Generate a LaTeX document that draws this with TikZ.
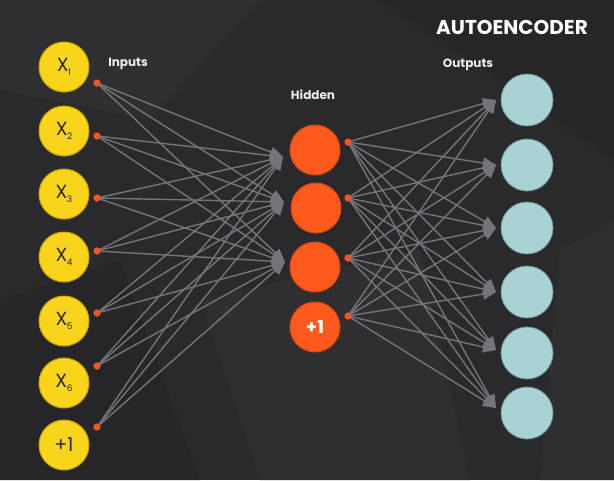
\documentclass[tikz,border=0pt]{standalone}
\usepackage{fontspec}
\setmainfont{Poppins}
\usetikzlibrary{arrows.meta}
\definecolor{bg}{HTML}{2A2A2C}
\definecolor{bgb}{HTML}{2F2F31}
\definecolor{bgc}{HTML}{262628}
\definecolor{yel}{HTML}{F8D41A}
\definecolor{yeld}{HTML}{C9A200}
\definecolor{org}{HTML}{FF5A1E}
\definecolor{orgd}{HTML}{D84410}
\definecolor{teal}{HTML}{A9D2D5}
\definecolor{teald}{HTML}{6E9598}
\definecolor{edge}{HTML}{72757A}
\definecolor{lbl}{HTML}{EDEDED}
\definecolor{dot}{HTML}{F2542A}
\tikzset{
  inp/.style={circle, fill=yel, draw=yeld, line width=1pt, minimum size=50pt, inner sep=0pt, font=\fontsize{19}{19}\selectfont, text=black!85},
  hid/.style={circle, fill=org, draw=orgd, line width=1pt, minimum size=50pt, inner sep=0pt, font=\fontsize{18}{18}\selectfont\bfseries, text=white},
  outn/.style={circle, fill=teal, draw=teald, line width=0.8pt, minimum size=52pt, inner sep=0pt},
  sdot/.style={circle, fill=dot, minimum size=7pt, inner sep=0pt},
  conn/.style={draw=edge, line width=1.4pt, -{Triangle[length=13pt,width=11pt]}},
  lab/.style={text=lbl, font=\fontsize{12}{12}\selectfont\bfseries},
}
\newcommand{\xs}[1]{X\kern-0.5pt\raisebox{-4.5pt}{\fontsize{9}{9}\selectfont #1}}
\begin{document}
\begin{tikzpicture}[x=1pt,y=-1pt]
\fill[bg] (0,0) rectangle (614,480);
\useasboundingbox (0,0) rectangle (614,480);
% subtle background facets
\fill[bgb] (0,0) -- (260,0) -- (150,120) -- (0,90) -- cycle;
\fill[bgc] (380,0) -- (614,0) -- (614,160) -- (470,60) -- cycle;
\fill[bgb] (200,300) -- (420,250) -- (470,480) -- (260,480) -- cycle;
\fill[bgc] (0,300) -- (120,260) -- (200,480) -- (0,480) -- cycle;
\fill[bgb] (560,250) -- (614,220) -- (614,480) -- (540,480) -- cycle;

% input nodes
\node[inp] (x1) at (64,67) {\xs{1}};
\node[inp] (x2) at (64,131) {\xs{2}};
\node[inp] (x3) at (64,194) {\xs{3}};
\node[inp] (x4) at (64,257) {\xs{4}};
\node[inp] (x5) at (64,321) {\xs{5}};
\node[inp] (x6) at (64,383) {\xs{6}};
\node[inp] (xb) at (64,445) {+1};

% hidden nodes
\node[hid] (h1) at (315,150) {};
\node[hid] (h2) at (316,208) {};
\node[hid] (h3) at (315,267) {};
\node[hid] (hb) at (315,327) {+1};

% output nodes
\node[outn] (o1) at (527,100) {};
\node[outn] (o2) at (527,165) {};
\node[outn] (o3) at (527,228) {};
\node[outn] (o4) at (527,292) {};
\node[outn] (o5) at (527,353) {};
\node[outn] (o6) at (527,413) {};

% arrow tip coordinates
\coordinate (th1) at (283,157);
\coordinate (th2) at (284,202);
\coordinate (th3) at (285,262);
\coordinate (to1) at (496,100);
\coordinate (to2) at (496,165);
\coordinate (to3) at (496,228);
\coordinate (to4) at (496,292);
\coordinate (to5) at (496,350);
\coordinate (to6) at (496,408);

% input dots
\node[sdot] (d1) at (97,83) {};
\node[sdot] (d2) at (97,136) {};
\node[sdot] (d3) at (97,198) {};
\node[sdot] (d4) at (97,251) {};
\node[sdot] (d5) at (97,313) {};
\node[sdot] (d6) at (97,366) {};
\node[sdot] (db) at (97,427) {};

% hidden dots
\node[sdot] (e1) at (348,142) {};
\node[sdot] (e2) at (348,198) {};
\node[sdot] (e3) at (348,258) {};
\node[sdot] (eb) at (348,316) {};

% connections input -> hidden
\foreach \s in {d1,d2,d3,d4,d5,d6,db}
  \foreach \t in {th1,th2,th3}
    \draw[conn] (\s.center) -- (\t);
% connections hidden -> output
\foreach \s in {e1,e2,e3,eb}
  \foreach \t in {to1,to2,to3,to4,to5,to6}
    \draw[conn] (\s.center) -- (\t);

% redraw dots on top
\foreach \s in {d1,d2,d3,d4,d5,d6,db,e1,e2,e3,eb}
  \fill[dot] (\s) circle (3.5pt);

% labels
\node[lab] (li) at (128,64) {Inputs};
\node[lab] (lh) at (313,95) {Hidden};
\node[lab] (lo) at (468,65) {Outputs};
\node[text=white, font=\fontsize{20}{20}\selectfont\bfseries] (title) at (512,27) {AUTOENCODER};
\end{tikzpicture}
\end{document}
